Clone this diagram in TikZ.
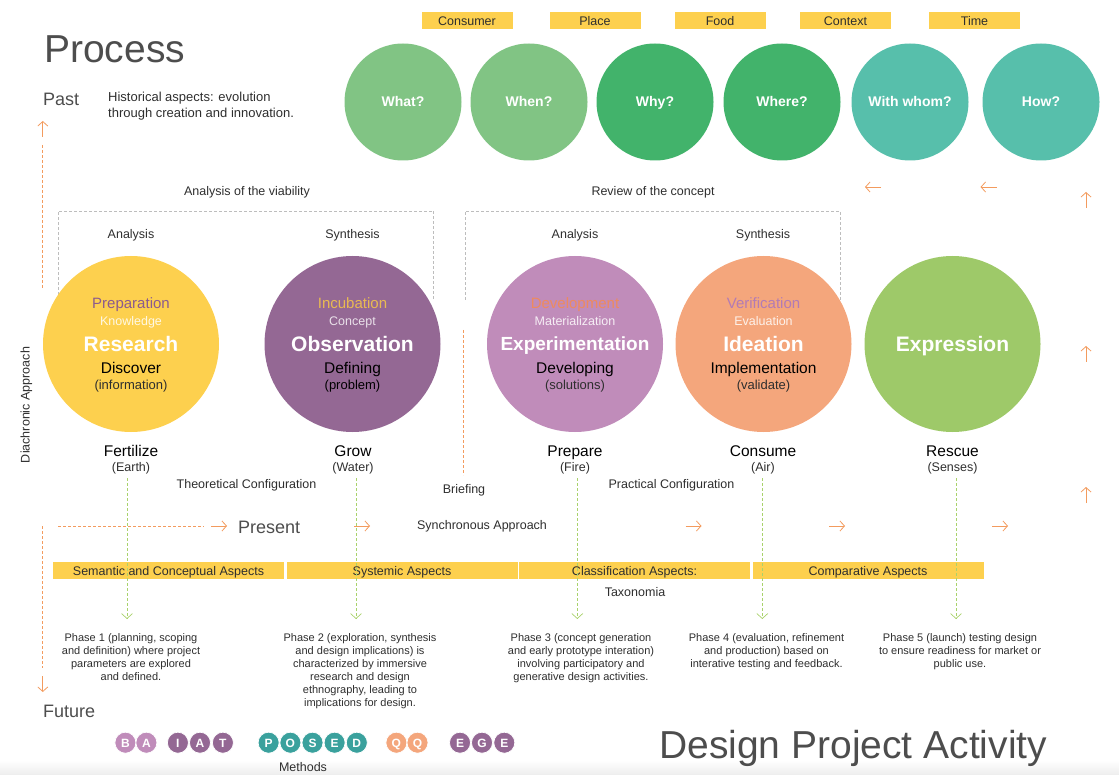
\documentclass[tikz,border=0pt]{standalone}
\usepackage{fontspec}
\setmainfont{Liberation Sans}
\usepackage{xcolor}
\usepackage{tikz}
\usetikzlibrary{arrows.meta,positioning}

\definecolor{inkdark}{HTML}{2E2E2E}
\definecolor{inktitle}{HTML}{4D4D4D}
\definecolor{tagyellow}{HTML}{FDD04E}
\definecolor{qlight}{HTML}{81C484}
\definecolor{qmid}{HTML}{42B36B}
\definecolor{qteal}{HTML}{57BFAB}
\definecolor{sunyellow}{HTML}{FDD04E}
\definecolor{plum}{HTML}{946894}
\definecolor{orchid}{HTML}{C08CBA}
\definecolor{salmon}{HTML}{F4A67C}
\definecolor{grass}{HTML}{9EC969}
\definecolor{dotteal}{HTML}{3AA19D}
\definecolor{arrorange}{HTML}{F39B5E}
\definecolor{leafgreen}{HTML}{A9D26B}
\definecolor{framegray}{HTML}{BDBDBD}
\definecolor{prepcol}{HTML}{8B5A8E}
\definecolor{incucol}{HTML}{E9BA52}
\definecolor{devcol}{HTML}{EE8A5E}
\definecolor{vercol}{HTML}{B27BB5}

% one-line labels: box height = cap height, so the node centre is the cap middle
\tikzset{
	oneline/.style={inner sep=0pt, text height=#1, text depth=0pt},
	title/.style={inner sep=0pt, text=inktitle, font=\fontsize{39}{44}\selectfont},
	era/.style={inner sep=0pt, text=inktitle, font=\fontsize{18}{21}\selectfont},
	note/.style={oneline=9pt, text=inkdark, font=\fontsize{12.5}{15}\selectfont},
	hist/.style={inner sep=0pt, text=inkdark, font=\fontsize{13}{16}\selectfont, align=left},
	tagbox/.style={fill=tagyellow, minimum width=91pt, minimum height=17pt,
		oneline=9pt, text=inkdark, font=\fontsize{12.5}{14}\selectfont},
	aspbar/.style={tagbox, minimum width=231pt},
	qring/.style={circle, minimum size=117pt, oneline=10pt, text=white,
		font=\fontsize{14}{16}\selectfont\bfseries},
	stage/.style={circle, minimum size=176pt, inner sep=0pt},
	phasetop/.style={oneline=10.8pt, font=\fontsize{15}{17}\selectfont},
	phasesub/.style={oneline=9pt, font=\fontsize{12.5}{14}\selectfont},
	phasebig/.style={oneline=15.1pt, text=white, font=\fontsize{21}{24}\selectfont\bfseries},
	phasebigs/.style={oneline=13.7pt, text=white, font=\fontsize{19}{22}\selectfont\bfseries},
	phaseverb/.style={oneline=11.2pt, text=black, font=\fontsize{15.5}{17}\selectfont},
	phaseparen/.style={oneline=9.4pt, text=inkdark, font=\fontsize{13}{15}\selectfont},
	elem/.style={oneline=11.2pt, text=black, font=\fontsize{15.5}{17}\selectfont},
	elemsub/.style={oneline=9pt, text=inkdark, font=\fontsize{12.5}{14}\selectfont},
	phase/.style={inner sep=0pt, anchor=north, align=center, text=inkdark,
		font=\fontsize{11}{13}\selectfont},
	mdot/.style={circle, minimum size=21pt, draw=white, line width=0.7pt,
		oneline=8.6pt, text=white, font=\fontsize{12}{13}\selectfont\bfseries},
	frame/.style={draw=framegray, line width=0.6pt, dash pattern=on 3pt off 2pt},
	odash/.style={draw=arrorange, line width=0.7pt, dash pattern=on 3pt off 2pt},
	orarr/.style={draw=arrorange, line width=0.8pt, -{Straight Barb[length=4.5pt, width=10pt]}},
	gdash/.style={draw=leafgreen, line width=0.7pt, dash pattern=on 3pt off 2pt,
		-{Straight Barb[length=5pt, width=11pt]}},
}

\begin{document}
\begin{tikzpicture}[x=1pt, y=-1pt]
	\useasboundingbox (0,0) rectangle (1119,775);
	\shade[top color=white, bottom color=black!7] (0,760) rectangle (1119,775);

	% headings and the time axis labels
	\node[title, anchor=base west] (proc) at (44,63) {Process};
	\node[era, anchor=base west] (past) at (43,106) {Past};
	\node[hist, anchor=west] (histnote) at (108,106) {Historical aspects: evolution\\through creation and innovation.};
	\node[era, anchor=base west] (present) at (238,533) {Present};
	\node[era, anchor=base west] (future) at (43,717) {Future};
	\node[note, rotate=90] (diach) at (25,405) {Diachronic Approach};
	\node[title, anchor=base west] (dpa) at (659,758) {Design Project Activity};

	% context tags and question circles
	\node[tagbox] (tcons) at (467,21) {Consumer};
	\node[tagbox] (tplace) at (595,21) {Place};
	\node[tagbox] (tfood) at (720,21) {Food};
	\node[tagbox] (tctx) at (845.5,21) {Context};
	\node[tagbox] (ttime) at (974.5,21) {Time};
	\node[qring, fill=qlight] (qwhat) at (403,102) {What?};
	\node[qring, fill=qlight] (qwhen) at (529,102) {When?};
	\node[qring, fill=qmid] (qwhy) at (655,102) {Why?};
	\node[qring, fill=qmid] (qwhere) at (782,102) {Where?};
	\node[qring, fill=qteal] (qwith) at (910,102) {With whom?};
	\node[qring, fill=qteal] (qhow) at (1041,102) {How?};

	% dashed frames around the analysis / synthesis pairs
	\node[note] (viab) at (247,191) {Analysis of the viability};
	\node[note] (review) at (653,191) {Review of the concept};
	\draw[frame] (58,300) -- (58,211) -- (433.5,211) -- (433.5,300);
	\draw[frame] (465,300) -- (465,211) -- (840,211) -- (840,300);
	\node[note] (anl1) at (131,234) {Analysis};
	\node[note] (syn1) at (352.5,234) {Synthesis};
	\node[note] (anl2) at (575,234) {Analysis};
	\node[note] (syn2) at (763,234) {Synthesis};

	% orange flow marks
	\coordinate (axtop) at (42.8,145);
	\coordinate (axmid) at (42.8,289);
	\coordinate (axlow) at (42.8,526);
	\coordinate (axend) at (42.8,668);
	\draw[odash] (axtop) -- (axmid);
	\draw[orarr] (42.8,137) -- (42.8,121);
	\draw[odash] (axlow) -- (axend);
	\draw[orarr] (42.8,676) -- (42.8,692);
	\coordinate (prs) at (58,526);
	\coordinate (pre) at (204,526);
	\draw[odash] (prs) -- (pre);
	\draw[orarr] (211,526) -- (227,526);
	\foreach \x in {354,685.5,829,992}
		\draw[orarr] (\x,526) -- ++(16,0);
	\foreach \x in {881,996.5}
		\draw[orarr] (\x,187) -- ++(-16,0);
	\foreach \y in {208,362,503}
		\draw[orarr] (1086,\y) -- ++(0,-16);
	\coordinate (brtop) at (463.3,330);
	\coordinate (brbot) at (463.3,475);
	\draw[odash] (brtop) -- (brbot);

	% the five stages
	\node[stage, fill=sunyellow] (res) at (131,344) {};
	\node[stage, fill=plum] (obs) at (352.5,344) {};
	\node[stage, fill=orchid] (exper) at (575,344) {};
	\node[stage, fill=salmon] (idea) at (763.5,344) {};
	\node[stage, fill=grass] (expr) at (952.5,344) {};

	\node[phasetop, text=prepcol] (resa) at (131,303) {Preparation};
	\node[phasesub, text=white!85!sunyellow] (resb) at (131,321) {Knowledge};
	\node[phasebig] (resc) at (131,344) {Research};
	\node[phaseverb] (resd) at (131,368) {Discover};
	\node[phaseparen] (rese) at (131,385) {(information)};

	\node[phasetop, text=incucol] (obsa) at (352.5,303) {Incubation};
	\node[phasesub, text=white!80!plum] (obsb) at (352.5,321) {Concept};
	\node[phasebig] (obsc) at (352.5,344) {Observation};
	\node[phaseverb] (obsd) at (352.5,368) {Defining};
	\node[phaseparen, text=black] (obse) at (352.5,385) {(problem)};

	\node[phasetop, text=devcol] (expa) at (575,303) {Development};
	\node[phasesub, text=white!85!orchid] (expb) at (575,321) {Materialization};
	\node[phasebigs] (expc) at (575,344) {Experimentation};
	\node[phaseverb] (expd) at (575,368) {Developing};
	\node[phaseparen] (expe) at (575,385) {(solutions)};

	\node[phasetop, text=vercol] (idea1) at (763.5,303) {Verification};
	\node[phasesub, text=white!85!salmon] (idea2) at (763.5,321) {Evaluation};
	\node[phasebig] (idea3) at (763.5,344) {Ideation};
	\node[phaseverb] (idea4) at (763.5,368) {Implementation};
	\node[phaseparen] (idea5) at (763.5,385) {(validate)};

	\node[phasebig] (exprc) at (952.5,344) {Expression};

	% elements under the stages
	\node[elem] (fert) at (131,451) {Fertilize};
	\node[elemsub] (earth) at (131,467) {(Earth)};
	\node[elem] (grow) at (353,451) {Grow};
	\node[elemsub] (water) at (353,467) {(Water)};
	\node[elem] (prep) at (575,451) {Prepare};
	\node[elemsub] (fire) at (575,467) {(Fire)};
	\node[elem] (cons) at (763,451) {Consume};
	\node[elemsub] (air) at (763,467) {(Air)};
	\node[elem] (resc) at (952.5,451) {Rescue};
	\node[elemsub] (senses) at (952.5,467) {(Senses)};

	\node[note] (theo) at (246.5,484) {Theoretical Configuration};
	\node[note] (brief) at (464,489) {Briefing};
	\node[note] (pract) at (671.5,484) {Practical Configuration};
	\node[note] (sync) at (482,525) {Synchronous Approach};

	% aspect bars
	\node[aspbar] (asem) at (168.5,570.5) {Semantic and Conceptual Aspects};
	\node[aspbar] (asys) at (402,570.5) {Systemic Aspects};
	\node[aspbar] (acls) at (634.5,570.5) {Classification Aspects:};
	\node[aspbar] (acmp) at (868,570.5) {Comparative Aspects};
	\node[note] (taxo) at (635,592) {Taxonomia};

	% phase descriptions and the drops into them
	\node[phase] (ph1) at (131,633.5) {Phase 1 (planning, scoping\\and definition) where project\\parameters are explored\\and defined.};
	\node[phase] (ph2) at (360,633.5) {Phase 2 (exploration, synthesis\\and design implications) is\\characterized by immersive\\research and design\\ethnography, leading to\\implications for design.};
	\node[phase] (ph3) at (581,633.5) {Phase 3 (concept generation\\and early prototype interation)\\involving participatory and\\generative design activities.};
	\node[phase] (ph4) at (766.5,633.5) {Phase 4 (evaluation, refinement\\and production) based on\\interative testing and feedback.};
	\node[phase] (ph5) at (960,633.5) {Phase 5 (launch) testing design\\to ensure readiness for market or\\public use.};
	\foreach \x [count=\i] in {127,356,577.3,762.3,956} {
		\coordinate (drop\i) at (\x,478);
		\draw[gdash] (drop\i) -- (\x,619);
	}

	% methods
	\foreach \x/\l/\c [count=\i] in {125.4/B/orchid, 146.4/A/orchid, 177.9/I/plum, 200/A/plum,
		222.9/T/plum, 268.6/P/dotteal, 290.4/O/dotteal, 312.5/S/dotteal, 334.6/E/dotteal,
		356.8/D/dotteal, 396.4/Q/salmon, 417.5/Q/salmon, 460/E/plum, 482/G/plum, 504.3/E/plum}
		\node[mdot, fill=\c] (dot\i) at (\x,742.7) {\l};
	\node[note] (meth) at (303,767) {Methods};
\end{tikzpicture}
\end{document}
